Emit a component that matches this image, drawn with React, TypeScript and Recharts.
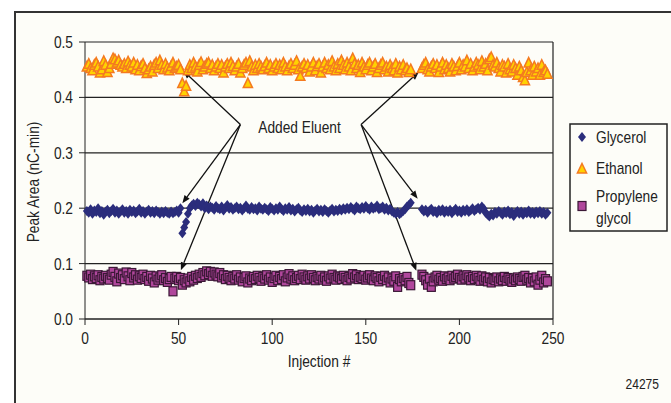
import { ScatterChart, Scatter, XAxis, YAxis, CartesianGrid, ReferenceLine, ReferenceDot } from "recharts";

// injections run in two blocks: 1..174, then 180..247 (column swap gap)
const runAStart = 1;
const runBStart = 180;

const ethanolA = [
  0.455, 0.46, 0.452, 0.448, 0.458, 0.462, 0.455, 0.444, 0.45, 0.465,
  0.458, 0.445, 0.452, 0.46, 0.47, 0.468, 0.462, 0.466, 0.458, 0.455,
  0.46, 0.452, 0.464, 0.458, 0.455, 0.462, 0.45, 0.458, 0.448, 0.456,
  0.46, 0.452, 0.443, 0.45, 0.455, 0.446, 0.458, 0.462, 0.452, 0.466,
  0.458, 0.45, 0.46, 0.453, 0.448, 0.456, 0.462, 0.452, 0.455, 0.458,
  0.45, 0.425, 0.41, 0.42, 0.448, 0.458, 0.452, 0.462, 0.455, 0.446,
  0.458, 0.463, 0.45, 0.455, 0.46, 0.462, 0.452, 0.458, 0.448, 0.455,
  0.46, 0.452, 0.458, 0.444, 0.455, 0.46, 0.452, 0.462, 0.456, 0.448,
  0.455, 0.46, 0.444, 0.452, 0.458, 0.462, 0.425, 0.465, 0.455, 0.448,
  0.458, 0.452, 0.46, 0.455, 0.45, 0.456, 0.462, 0.452, 0.458, 0.448,
  0.455, 0.46, 0.452, 0.458, 0.45, 0.462, 0.455, 0.448, 0.456, 0.46,
  0.452, 0.458, 0.465, 0.45, 0.438, 0.455, 0.46, 0.452, 0.458, 0.446,
  0.455, 0.462, 0.448, 0.456, 0.46, 0.444, 0.455, 0.462, 0.452, 0.458,
  0.45, 0.465, 0.455, 0.448, 0.46, 0.452, 0.466, 0.458, 0.45, 0.462,
  0.455, 0.448, 0.47, 0.46, 0.452, 0.458, 0.445, 0.462, 0.455, 0.45,
  0.458, 0.462, 0.448, 0.455, 0.46, 0.445, 0.452, 0.458, 0.462, 0.45,
  0.455, 0.446, 0.458, 0.452, 0.448, 0.46, 0.444, 0.455, 0.45, 0.458,
  0.448, 0.452, 0.445, 0.45,
];
const ethanolB = [
  0.452, 0.458, 0.462, 0.45, 0.446, 0.455, 0.46, 0.452, 0.458, 0.445,
  0.455, 0.462, 0.45, 0.458, 0.452, 0.446, 0.46, 0.455, 0.448, 0.456,
  0.462, 0.45, 0.458, 0.455, 0.466, 0.452, 0.46, 0.448, 0.455, 0.462,
  0.458, 0.45, 0.465, 0.455, 0.46, 0.448, 0.468, 0.472, 0.458, 0.455,
  0.462, 0.452, 0.446, 0.458, 0.455, 0.444, 0.46, 0.45, 0.446, 0.458,
  0.452, 0.44, 0.455, 0.448, 0.436, 0.43, 0.445, 0.462, 0.448, 0.44,
  0.455, 0.446, 0.452, 0.44, 0.458, 0.445, 0.448, 0.442,
];

const glycerolA = [
  0.195, 0.192, 0.198, 0.19, 0.196, 0.193, 0.2, 0.191, 0.195, 0.188,
  0.194, 0.197, 0.191, 0.195, 0.199, 0.192, 0.196, 0.19, 0.194, 0.198,
  0.192, 0.195, 0.19, 0.197, 0.193, 0.196, 0.191, 0.194, 0.199, 0.192,
  0.195, 0.19, 0.194, 0.197, 0.192, 0.195, 0.191, 0.196, 0.193, 0.19,
  0.194, 0.191, 0.195, 0.192, 0.19, 0.194, 0.191, 0.193, 0.196, 0.192,
  0.2, 0.155, 0.165, 0.175, 0.19, 0.2, 0.205, 0.208, 0.204, 0.21,
  0.207, 0.203, 0.209, 0.2, 0.205, 0.198, 0.203, 0.201, 0.197, 0.204,
  0.2, 0.198, 0.203, 0.196, 0.201, 0.206, 0.199, 0.202, 0.197, 0.2,
  0.203, 0.198, 0.201, 0.196, 0.2, 0.205, 0.199, 0.197, 0.202, 0.198,
  0.2, 0.196, 0.203, 0.199, 0.197, 0.201, 0.198, 0.195, 0.202, 0.199,
  0.196, 0.2, 0.197, 0.203, 0.198, 0.195, 0.2, 0.197, 0.202, 0.196,
  0.199, 0.194, 0.198, 0.201, 0.196, 0.193, 0.198, 0.195, 0.199, 0.194,
  0.197, 0.192, 0.196, 0.199, 0.194, 0.197, 0.193, 0.198, 0.195, 0.192,
  0.196, 0.199, 0.194, 0.197, 0.195, 0.199, 0.196, 0.2, 0.197, 0.201,
  0.198, 0.202, 0.199, 0.196, 0.203, 0.2, 0.198, 0.202, 0.199, 0.204,
  0.2, 0.197, 0.203, 0.199, 0.201, 0.205, 0.198, 0.2, 0.203, 0.197,
  0.201, 0.196, 0.199, 0.194, 0.192, 0.19, 0.193, 0.189, 0.192, 0.195,
  0.198, 0.203, 0.206, 0.21,
];
const glycerolB = [
  0.198, 0.194, 0.197, 0.192, 0.196, 0.199, 0.193, 0.195, 0.191, 0.197,
  0.194, 0.198, 0.192, 0.196, 0.193, 0.197, 0.191, 0.195, 0.199, 0.193,
  0.196, 0.192, 0.197, 0.194, 0.198, 0.193, 0.196, 0.2, 0.195, 0.198,
  0.201, 0.197, 0.203, 0.199, 0.192, 0.188, 0.185, 0.19, 0.187, 0.193,
  0.19, 0.195, 0.192, 0.188, 0.194, 0.191, 0.196, 0.189, 0.193, 0.186,
  0.192, 0.195, 0.19, 0.194, 0.188, 0.193, 0.191, 0.196, 0.19, 0.193,
  0.189, 0.194, 0.191, 0.195, 0.19, 0.193, 0.188, 0.192,
];

const propyleneA = [
  0.078, 0.075, 0.08, 0.072, 0.077, 0.074, 0.079, 0.07, 0.076, 0.073,
  0.078, 0.074, 0.071, 0.08, 0.085, 0.076, 0.068, 0.082, 0.074, 0.079,
  0.072, 0.084, 0.077, 0.07, 0.083, 0.075, 0.079, 0.071, 0.077, 0.074,
  0.08, 0.072, 0.076, 0.069, 0.078, 0.073, 0.066, 0.077, 0.071, 0.075,
  0.079, 0.07, 0.074, 0.067, 0.072, 0.076, 0.05, 0.073, 0.076, 0.07,
  0.074, 0.062, 0.07, 0.066, 0.073, 0.068, 0.076, 0.071, 0.078, 0.074,
  0.08, 0.076, 0.083, 0.079, 0.086, 0.081, 0.085, 0.078, 0.084, 0.08,
  0.077, 0.083, 0.075, 0.079, 0.072, 0.078, 0.074, 0.07, 0.076, 0.073,
  0.079, 0.071, 0.075, 0.068, 0.074, 0.077, 0.066, 0.073, 0.07, 0.076,
  0.072, 0.078, 0.074, 0.069, 0.076, 0.073, 0.079, 0.071, 0.075, 0.067,
  0.074, 0.078, 0.07, 0.076, 0.072, 0.079, 0.068, 0.075, 0.081, 0.073,
  0.077, 0.07, 0.074, 0.078, 0.072, 0.08, 0.075, 0.071, 0.077, 0.073,
  0.079, 0.074, 0.07, 0.076, 0.073, 0.078, 0.071, 0.075, 0.069, 0.077,
  0.073, 0.08, 0.074, 0.071, 0.077, 0.075, 0.072, 0.078, 0.074, 0.07,
  0.076, 0.073, 0.081, 0.075, 0.079, 0.072, 0.076, 0.074, 0.078, 0.071,
  0.075, 0.079, 0.073, 0.07, 0.077, 0.074, 0.068, 0.076, 0.072, 0.078,
  0.07, 0.075, 0.066, 0.073, 0.069, 0.077, 0.058, 0.072, 0.068, 0.074,
  0.07, 0.076, 0.065, 0.061,
];
const propyleneB = [
  0.08, 0.076, 0.07, 0.062, 0.073, 0.058, 0.068, 0.075, 0.078, 0.071,
  0.074, 0.069, 0.077, 0.072, 0.075, 0.07, 0.078, 0.073, 0.076, 0.08,
  0.074, 0.071, 0.077, 0.073, 0.079, 0.075, 0.07, 0.076, 0.072, 0.078,
  0.074, 0.069, 0.077, 0.071, 0.075, 0.068, 0.074, 0.066, 0.072, 0.07,
  0.075, 0.068, 0.073, 0.07, 0.076, 0.069, 0.074, 0.071, 0.067, 0.073,
  0.07, 0.075, 0.072, 0.069, 0.076, 0.078, 0.071, 0.074, 0.066, 0.073,
  0.068, 0.075, 0.062, 0.071, 0.078, 0.066, 0.072, 0.068,
];

const xTicks = [0, 50, 100, 150, 200, 250];
const yTicks = [0, 0.1, 0.2, 0.3, 0.4, 0.5];

// "Added Eluent" arrows: [from, to] in data units
const arrowsFrom = [
  { x: 83, y: 0.351 },
  { x: 147.5, y: 0.351 },
];
const arrowsTo = [
  [{ x: 52.5, y: 0.448 }, { x: 52, y: 0.209 }, { x: 51.2, y: 0.088 }],
  [{ x: 178.3, y: 0.446 }, { x: 177.7, y: 0.217 }, { x: 177, y: 0.087 }],
];

const toPoints = (a: number[], b: number[]) => [
  ...a.map((y, i) => ({ x: runAStart + i, y })),
  ...b.map((y, i) => ({ x: runBStart + i, y })),
];

const FONT = "'Liberation Sans', Arial, sans-serif";
const INK = "#222";
const NAVY = "#2b2d7c";
const YELLOW = "#ffd200";
const ORANGE = "#f47a20";
const MAGENTA = "#b0479c";
const PLUM = "#3b1836";

// condensed-looking text (the original uses a narrow grotesque)
function CondText({ x, y, anchor = "start", size = 16, rotate = false, children }: any) {
  return (
    <text
      transform={`translate(${x} ${y})${rotate ? " rotate(-90)" : ""} scale(0.86 1)`}
      textAnchor={anchor}
      fontSize={size}
      fontFamily={FONT}
      fill={INK}
    >
      {children}
    </text>
  );
}

const Diamond = (p: any) => (
  <polygon
    points={`${p.cx},${p.cy - 5} ${p.cx + 4},${p.cy} ${p.cx},${p.cy + 5} ${p.cx - 4},${p.cy}`}
    fill={NAVY}
  />
);
const Triangle = (p: any) => (
  <polygon
    points={`${p.cx},${p.cy - 5.5} ${p.cx + 4.6},${p.cy + 4} ${p.cx - 4.6},${p.cy + 4}`}
    fill={YELLOW}
    stroke={ORANGE}
    strokeWidth={1.5}
  />
);
const Square = (p: any) => (
  <rect x={p.cx - 4} y={p.cy - 4.5} width={8} height={9} fill={MAGENTA} stroke={PLUM} strokeWidth={1.2} />
);

const Arrow = (p: any) => {
  const { x1, y1, x2, y2 } = p;
  const dx = x2 - x1;
  const dy = y2 - y1;
  const len = Math.sqrt(dx * dx + dy * dy) || 1;
  const ux = dx / len;
  const uy = dy / len;
  const bx = x2 - ux * 8;
  const by = y2 - uy * 8;
  return (
    <g>
      <line x1={x1} y1={y1} x2={bx} y2={by} stroke="#111" strokeWidth={1.3} />
      <polygon
        points={`${x2},${y2} ${bx - uy * 3.2},${by + ux * 3.2} ${bx + uy * 3.2},${by - ux * 3.2}`}
        fill="#111"
      />
    </g>
  );
};

const legendNames = ["Glycerol", "Ethanol", "Propylene", "glycol"];

function LegendBox() {
  return (
    <svg width={100} height={110} style={{ position: "absolute", left: 569, top: 123 }}>
      <rect x={1} y={1} width={97} height={107} fill="#fdfdf8" stroke={INK} strokeWidth={1.5} />
      <Diamond cx={13} cy={14} />
      <CondText x={27} y={20}>{legendNames[0]}</CondText>
      <Triangle cx={13} cy={46} />
      <CondText x={27} y={51}>{legendNames[1]}</CondText>
      <Square cx={13} cy={83} />
      <CondText x={27} y={79}>{legendNames[2]}</CondText>
      <CondText x={27} y={101}>{legendNames[3]}</CondText>
    </svg>
  );
}

export default function App() {
  const ethanol = toPoints(ethanolA, ethanolB);
  const glycerol = toPoints(glycerolA, glycerolB);
  const propylene = toPoints(propyleneA, propyleneB);

  return (
    <div style={{ position: "absolute", left: 0, top: 0, width: 671, height: 403, background: "#fff", overflow: "hidden" }}>
      <div
        style={{
          position: "absolute",
          left: 14,
          top: 11,
          width: 680,
          height: 400,
          borderLeft: "2px solid #333",
          borderTop: "2px solid #333",
          background: "#fdfdf8",
        }}
      />
      <div style={{ position: "absolute", left: 0, top: 0 }}>
        <ScatterChart width={671} height={403} margin={{ top: 42, right: 118, bottom: 34, left: 39 }}>
          <CartesianGrid vertical={false} stroke={INK} strokeWidth={1.2} />
          <XAxis
            type="number"
            dataKey="x"
            domain={[0, 250]}
            ticks={xTicks}
            height={50}
            tickSize={6}
            stroke={INK}
            tick={(p: any) => (
              <CondText x={p.x} y={p.y + 17} anchor="middle">{p.payload.value}</CondText>
            )}
            label={{
              content: () => <CondText x={319} y={367} anchor="middle">Injection #</CondText>,
            }}
          />
          <YAxis
            type="number"
            dataKey="y"
            domain={[0, 0.5]}
            ticks={yTicks}
            width={46}
            tickSize={6}
            stroke={INK}
            tick={(p: any) => (
              <CondText x={p.x - 4} y={p.y + 6} anchor="end">{Number(p.payload.value).toFixed(1)}</CondText>
            )}
            label={{
              content: () => <CondText x={39} y={182} anchor="middle" rotate>Peak Area (nC-min)</CondText>,
            }}
          />
          <ReferenceLine x={250} stroke={INK} strokeWidth={1.2} />
          <Scatter name="Propylene glycol" data={propylene} shape={Square} isAnimationActive={false} />
          <Scatter name="Glycerol" data={glycerol} shape={Diamond} isAnimationActive={false} />
          <Scatter name="Ethanol" data={ethanol} shape={Triangle} isAnimationActive={false} />
          {arrowsFrom.map((from, i) =>
            arrowsTo[i].map((to, j) => (
              <ReferenceLine key={`a${i}-${j}`} segment={[from, to]} shape={Arrow} />
            ))
          )}
          <ReferenceDot
            x={114.6}
            y={0.347}
            r={0}
            shape={(p: any) => <CondText x={p.cx} y={p.cy + 6} anchor="middle">Added Eluent</CondText>}
          />
        </ScatterChart>
      </div>
      <LegendBox />
      <svg width={671} height={403} style={{ position: "absolute", left: 0, top: 0, pointerEvents: "none" }}>
        <CondText x={659} y={389} anchor="end" size={14}>24275</CondText>
      </svg>
    </div>
  );
}
